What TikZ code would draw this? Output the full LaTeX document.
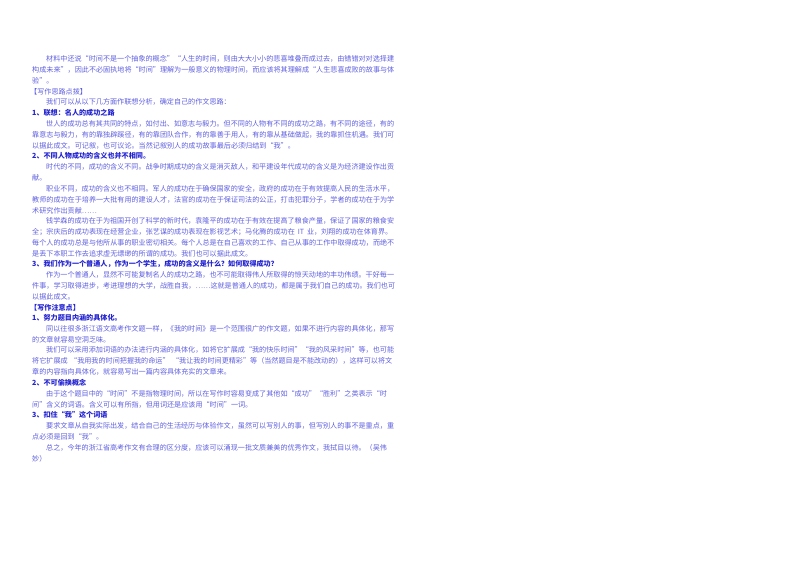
\documentclass[tikz,border=0pt]{standalone}
\usepackage{fontspec}
\setmainfont{Noto Sans CJK SC}
\XeTeXlinebreaklocale "zh"
\XeTeXlinebreakskip=0pt plus 2pt
\definecolor{bodyc}{RGB}{95,95,225}
\definecolor{headc}{RGB}{35,35,210}
\tikzset{txt/.style={anchor=west,inner sep=0pt,text=bodyc,font=\fontsize{7.1}{8}\selectfont},
 hd/.style={txt,text=headc,font=\fontsize{7.1}{8}\selectfont\bfseries}}
\newcommand{\LFl}[3]{\node[txt] (l#1) at (32pt,-#2pt) {\makebox[360pt][s]{#3}};}
\newcommand{\LFi}[3]{\node[txt] (l#1) at (46pt,-#2pt) {\makebox[346pt][s]{#3}};}
\newcommand{\LPl}[3]{\node[txt] (l#1) at (32pt,-#2pt) {#3};}
\newcommand{\LPi}[3]{\node[txt] (l#1) at (46pt,-#2pt) {#3};}
\newcommand{\LHd}[3]{\node[hd] (l#1) at (32pt,-#2pt) {#3};}
\begin{document}
\begin{tikzpicture}
\useasboundingbox (0,0) rectangle (800pt,-566pt);
\fill[white] (0,0) rectangle (800pt,-566pt);
\LFi{1}{59}{材料中还说“时间不是一个抽象的概念”“人生的时间，则由大大小小的悲喜堆叠而成过去，由错错对对选择建}
\LFl{2}{70}{构成未来”，因此不必固执地将“时间”理解为一般意义的物理时间，而应该将其理解成“人生悲喜成败的故事与体}
\LPl{3}{81}{验”。}
\node[txt] (l4) at (30pt,-92pt) {【写作思路点拨】};
\LPi{5}{102}{我们可以从以下几方面作联想分析，确定自己的作文思路：}
\LHd{6}{113}{1、联想：名人的成功之路}
\LFi{7}{124}{世人的成功总有其共同的特点，如付出、如意志与毅力。但不同的人物有不同的成功之路，有不同的途径，有的}
\LFl{8}{135}{靠意志与毅力，有的靠独辟蹊径，有的靠团队合作，有的靠善于用人，有的靠从基础做起，我的靠抓住机遇。我们可}
\LPl{9}{146}{以据此成文。可记叙，也可议论。当然记叙别人的成功故事最后必须归结到“我”。}
\LHd{10}{156}{2、不同人物成功的含义也并不相同。}
\LFi{11}{167}{时代的不同，成功的含义不同。战争时期成功的含义是消灭敌人，和平建设年代成功的含义是为经济建设作出贡}
\LPl{12}{178}{献。}
\LFi{13}{189}{职业不同，成功的含义也不相同。军人的成功在于确保国家的安全，政府的成功在于有效提高人民的生活水平，}
\LFl{14}{200}{教师的成功在于培养一大批有用的建设人才，法官的成功在于保证司法的公正，打击犯罪分子，学者的成功在于为学}
\LPl{15}{211}{术研究作出贡献……}
\LFi{16}{221}{钱学森的成功在于为祖国开创了科学的新时代，袁隆平的成功在于有效在提高了粮食产量，保证了国家的粮食安}
\LFl{17}{232}{全；宗庆后的成功表现在经营企业，张艺谋的成功表现在影视艺术；马化腾的成功在 IT 业，刘翔的成功在体育界。}
\LFl{18}{243}{每个人的成功总是与他所从事的职业密切相关。每个人总是在自己喜欢的工作、自己从事的工作中取得成功，而绝不}
\LPl{19}{254}{是丢下本职工作去追求虚无缥缈的所谓的成功。我们也可以据此成文。}
\LHd{20}{264}{3、我们作为一个普通人，作为一个学生，成功的含义是什么？如何取得成功？}
\LFi{21}{275}{作为一个普通人，显然不可能复制名人的成功之路，也不可能取得伟人所取得的惊天动地的丰功伟绩。干好每一}
\LFl{22}{286}{件事，学习取得进步，考进理想的大学，战胜自我，……这就是普通人的成功，都是属于我们自己的成功。我们也可}
\LPl{23}{297}{以据此成文。}
\node[hd] (l24) at (30pt,-308pt) {【写作注意点】};
\LHd{25}{318}{1、努力题目内涵的具体化。}
\LFi{26}{329}{同以往很多浙江语文高考作文题一样，《我的时间》是一个范围很广的作文题，如果不进行内容的具体化，那写}
\LPl{27}{340}{的文章就容易空洞乏味。}
\LFi{28}{350}{我们可以采用添加词语的办法进行内涵的具体化，如将它扩展成“我的快乐时间”“我的风采时间”等，也可能}
\LFl{29}{361}{将它扩展成 “我用我的时间把握我的命运” “我让我的时间更精彩”等（当然题目是不能改动的），这样可以将文}
\LPl{30}{372}{章的内容指向具体化，就容易写出一篇内容具体充实的文章来。}
\LHd{31}{383}{2、不可偷换概念}
\LFi{32}{394}{由于这个题目中的“时间”不是指物理时间，所以在写作时容易变成了其他如“成功”“胜利”之类表示“时}
\LPl{33}{405}{间”含义的词语。含义可以有所指，但用词还是应该用“时间”一词。}
\LHd{34}{415}{3、扣住“我”这个词语}
\LFi{35}{426}{要求文章从自我实际出发，结合自己的生活经历与体验作文，虽然可以写别人的事，但写别人的事不是重点，重}
\LPl{36}{437}{点必须是回到“我”。}
\LFi{37}{448}{总之，今年的浙江省高考作文有合理的区分度，应该可以涌现一批文质兼美的优秀作文，我拭目以待。（吴伟}
\LPl{38}{459}{妙）}
\end{tikzpicture}
\end{document}
